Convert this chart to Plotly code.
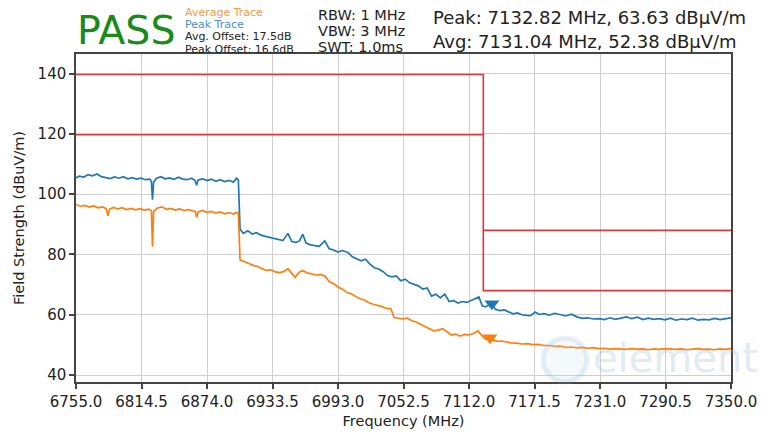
import plotly.graph_objects as go

# ---------------- data ----------------
peak_freq = [6755, 6758, 6762, 6766, 6770, 6774, 6778, 6782, 6786, 6790, 6794, 6798, 6802, 6806, 6810, 6814,
             6818, 6822, 6823.5, 6824.5, 6825.5, 6828, 6832, 6836, 6840, 6844, 6848, 6852, 6856, 6860, 6863,
             6864.5, 6866, 6870, 6874, 6878, 6882, 6886, 6890, 6894, 6898, 6901, 6902.5, 6904, 6907, 6911,
             6915, 6919, 6923, 6927, 6931, 6935, 6939, 6943, 6947.5, 6951, 6955, 6958, 6961, 6964, 6968,
             6972, 6976, 6981, 6985, 6989, 6993, 6997, 7002, 7006, 7010, 7014, 7018, 7022, 7026, 7030,
             7034, 7038, 7042, 7046, 7050, 7054, 7058, 7062, 7066, 7070, 7074, 7078, 7082, 7086, 7090,
             7094, 7098, 7102, 7106, 7110, 7114, 7118, 7121, 7124, 7127, 7130, 7132.82, 7136, 7140, 7144,
             7148, 7152, 7156, 7160, 7164, 7168, 7172, 7176, 7180, 7185, 7190, 7195, 7200, 7205, 7210,
             7215, 7220, 7225, 7230, 7235, 7240, 7245, 7250, 7255, 7260, 7265, 7270, 7275, 7280, 7285,
             7290, 7295, 7300, 7305, 7310, 7315, 7320, 7325, 7330, 7335, 7340, 7345, 7350]
peak_dbuv = [105.4, 106.0, 105.7, 106.5, 106.1, 106.7, 105.8, 105.6, 105.2, 105.7, 105.3, 105.8, 105.1, 105.5,
             105.0, 105.3, 104.8, 105.0, 104.2, 98.2, 104.0, 105.2, 105.8, 105.1, 105.4, 104.9, 105.6, 105.0,
             104.8, 105.3, 104.6, 103.0, 104.7, 105.1, 104.5, 105.0, 104.3, 104.8, 104.2, 104.6, 104.0,
             105.3, 104.6, 88.4, 87.0, 87.9, 86.8, 87.2, 86.4, 86.0, 85.7, 85.3, 85.0, 84.6, 87.0, 84.3,
             84.0, 84.5, 86.7, 83.8, 83.2, 83.0, 82.7, 84.5, 81.9, 81.5, 80.8, 81.3, 80.7, 79.2, 78.6, 77.9,
             78.4, 76.8, 75.6, 75.2, 74.3, 73.0, 72.6, 72.9, 71.3, 71.8, 70.6, 70.2, 69.6, 68.5, 68.9, 66.2,
             66.8, 65.6, 66.9, 64.4, 64.7, 63.9, 64.4, 64.1, 64.7, 65.2, 65.9, 63.0, 62.6, 63.2, 63.63, 61.8,
             61.4, 61.6, 60.9, 60.3, 60.6, 60.0, 59.8, 59.7, 60.9, 60.1, 60.4, 59.9, 60.5, 60.1, 59.6, 60.2,
             59.3, 58.8, 59.0, 58.6, 58.7, 58.4, 59.0, 58.5, 58.8, 59.3, 58.7, 59.2, 58.4, 58.9, 58.5, 58.7,
             58.3, 58.9, 58.2, 58.6, 58.4, 58.9, 58.2, 58.5, 58.3, 58.8, 58.4, 58.7, 59.0]

avg_freq = [6755, 6759, 6763, 6767, 6771, 6775, 6779, 6782.5, 6784, 6785.5, 6789, 6793, 6797, 6801, 6805, 6809,
            6813, 6817, 6821, 6823.5, 6824.5, 6825.5, 6829, 6833, 6837, 6841, 6845, 6849, 6853, 6857, 6861,
            6863.5, 6864.5, 6866, 6870, 6874, 6878, 6882, 6886, 6890, 6894, 6898, 6901, 6902.5, 6904, 6908,
            6912, 6916, 6920, 6924, 6928, 6932, 6936, 6940, 6944, 6947.5, 6951, 6954, 6958, 6961, 6965,
            6969, 6973, 6977, 6981, 6985, 6989, 6993, 6997, 7001, 7005, 7009, 7013, 7017, 7021, 7025,
            7029, 7033, 7037, 7041, 7044, 7048, 7052, 7056, 7060, 7064, 7068, 7072, 7076, 7080, 7084,
            7088, 7092, 7096, 7100, 7104, 7108, 7112, 7116, 7120, 7123, 7126.5, 7129, 7131.04, 7134, 7138,
            7142, 7146, 7150, 7155, 7160, 7165, 7170, 7175, 7180, 7185, 7190, 7195, 7200, 7205, 7210,
            7215, 7220, 7225, 7230, 7235, 7240, 7245, 7250, 7255, 7260, 7265, 7270, 7275, 7280, 7285,
            7290, 7295, 7300, 7305, 7310, 7315, 7320, 7325, 7330, 7335, 7340, 7345, 7350]
avg_dbuv = [96.6, 96.0, 96.3, 95.7, 96.1, 95.5, 95.8, 95.2, 92.8, 95.0, 95.6, 95.1, 95.5, 94.9, 95.3, 94.8,
            95.2, 94.7, 95.0, 94.5, 82.6, 94.3, 95.4, 95.8, 95.0, 95.3, 94.7, 95.1, 94.6, 94.9, 94.5, 94.2,
            92.3, 94.1, 94.6, 94.0, 94.3, 93.7, 94.1, 93.5, 93.9, 93.4, 94.0, 93.6, 78.2, 77.5, 77.0, 76.4,
            76.0, 75.3, 74.7, 74.9, 74.2, 74.0, 74.4, 75.3, 73.8, 72.4, 74.2, 74.6, 73.9, 73.6, 73.2, 73.4,
            72.9, 71.0, 70.3, 69.2, 68.5, 67.4, 67.0, 66.1, 65.3, 64.9, 64.0, 63.5, 63.2, 62.7, 62.1, 62.0,
            59.1, 58.8, 58.6, 58.9, 58.0, 57.6, 56.8, 56.2, 55.4, 54.7, 54.9, 55.4, 54.3, 53.3, 53.6, 52.9,
            53.5, 53.3, 53.8, 54.7, 53.4, 52.0, 51.9, 52.38, 51.6, 51.2, 51.3, 50.9, 50.7, 50.6, 50.3, 50.4,
            50.1, 50.2, 49.8, 49.8, 49.5, 49.6, 49.2, 49.3, 49.0, 49.2, 48.9, 49.1, 48.8, 48.9, 48.6, 48.8,
            48.7, 48.5, 48.8, 48.6, 48.7, 48.4, 48.7, 48.5, 48.8, 48.6, 48.5, 48.7, 48.4, 48.6, 48.8, 48.5,
            48.6, 48.4, 48.7, 48.5, 48.8]

# limit lines (frequency, level)
limit_a_freq = [6755, 7125, 7125, 7350]
limit_a_dbuv = [139.7, 139.7, 68.0, 68.0]
limit_b1_freq = [6755, 7125]
limit_b1_dbuv = [119.7, 119.7]
limit_b2_freq = [7125, 7350]
limit_b2_dbuv = [88.0, 88.0]

# markers
peak_marker_freq = [7132.82]
peak_marker_dbuv = [63.63]
avg_marker_freq = [7131.04]
avg_marker_dbuv = [52.38]

x_ticks = [6755.0, 6814.5, 6874.0, 6933.5, 6993.0, 7052.5, 7112.0, 7171.5, 7231.0, 7290.5, 7350.0]
y_ticks = [40, 60, 80, 100, 120, 140]

BLUE = "#1f77b4"
ORANGE = "#ff7f0e"
RED = "#e0383a"
FONT = "DejaVu Sans"

fig = go.Figure()
for fx, fy in [(limit_a_freq, limit_a_dbuv), (limit_b1_freq, limit_b1_dbuv), (limit_b2_freq, limit_b2_dbuv)]:
    fig.add_trace(go.Scatter(x=fx, y=fy, mode="lines", line=dict(color=RED, width=1.6),
                             showlegend=False, hoverinfo="skip"))
fig.add_trace(go.Scatter(x=peak_freq, y=peak_dbuv, mode="lines", line=dict(color=BLUE, width=1.7),
                         name="Peak Trace", showlegend=False))
fig.add_trace(go.Scatter(x=avg_freq, y=avg_dbuv, mode="lines", line=dict(color=ORANGE, width=1.7),
                         name="Average Trace", showlegend=False))
fig.add_trace(go.Scatter(x=peak_marker_freq, y=peak_marker_dbuv, mode="markers",
                         marker=dict(symbol="triangle-down", size=13, color=BLUE), showlegend=False))
fig.add_trace(go.Scatter(x=avg_marker_freq, y=avg_marker_dbuv, mode="markers",
                         marker=dict(symbol="triangle-down", size=13, color=ORANGE), showlegend=False))

L, R, T, B = 76, 35, 54, 52
W, H = 766, 434
pw, ph = W - L - R, H - T - B


def px(xp):
    return (xp - L) / pw


def py(yp):
    return (H - B - yp) / ph


def note(text, x, y, size, color, anchor="left"):
    fig.add_annotation(text=text, x=px(x), y=py(y), xref="paper", yref="paper",
                       xanchor=anchor, yanchor="middle", showarrow=False, borderpad=0,
                       font=dict(family=FONT, size=size, color=color))


note("PASS", 76, 30, 39.5, "#1a8a1a")
note("Average Trace", 184, 12, 11, "#f59a45")
note("Peak Trace", 184, 24.3, 11, "#4a8fc8")
note("Avg. Offset: 17.5dB", 184, 36.6, 11, "#222222")
note("Peak Offset: 16.6dB", 184, 49, 11, "#222222")
note("RBW: 1 MHz", 317, 15, 14.5, "#222222")
note("VBW: 3 MHz", 317, 31, 14.5, "#222222")
note("SWT: 1.0ms", 317, 47, 14.5, "#222222")
note("Peak: 7132.82 MHz, 63.63 dBµV/m", 432, 18, 18, "#222222")
note("Avg: 7131.04 MHz, 52.38 dBµV/m", 432, 42, 18, "#222222")

# faint watermark logo
fig.add_shape(type="circle", xref="paper", yref="paper",
              x0=px(543), x1=px(587), y0=py(382), y1=py(338),
              line=dict(color="rgba(120,170,210,0.18)", width=5), fillcolor="rgba(200,225,240,0.2)",
              layer="above")
note("element", 592, 358, 40, "rgba(150,185,210,0.3)")

fig.update_layout(
    width=W, height=H,
    margin=dict(l=L, r=R, t=T, b=B, autoexpand=False),
    paper_bgcolor="white", plot_bgcolor="white",
    font=dict(family=FONT, size=15, color="#222222"),
    showlegend=False,
)
fig.update_xaxes(range=[6755, 7350], tickvals=x_ticks, ticktext=[f"{v:.1f}" for v in x_ticks],
                 showgrid=True, gridcolor="#cfcfcf", gridwidth=1, automargin=False,
                 showline=True, linecolor="#444444", linewidth=1.5, mirror=True,
                 ticks="outside", ticklen=5, tickwidth=1.5, tickcolor="#444444",
                 tickfont=dict(size=15), zeroline=False,
                 title=dict(text="Frequency (MHz)", font=dict(size=14.5), standoff=6))
fig.update_yaxes(range=[37.7, 146.5], tickvals=y_ticks,
                 showgrid=True, gridcolor="#cfcfcf", gridwidth=1, automargin=False,
                 showline=True, linecolor="#444444", linewidth=1.5, mirror=True,
                 ticks="outside", ticklen=5, tickwidth=1.5, tickcolor="#444444",
                 tickfont=dict(size=15), zeroline=False,
                 title=dict(text="Field Strength (dBuV/m)", font=dict(size=14.5), standoff=10))

fig.write_html("out.html", config={"displayModeBar": False},
               post_script="document.body.style.margin='0px';document.body.style.overflow='hidden';")
